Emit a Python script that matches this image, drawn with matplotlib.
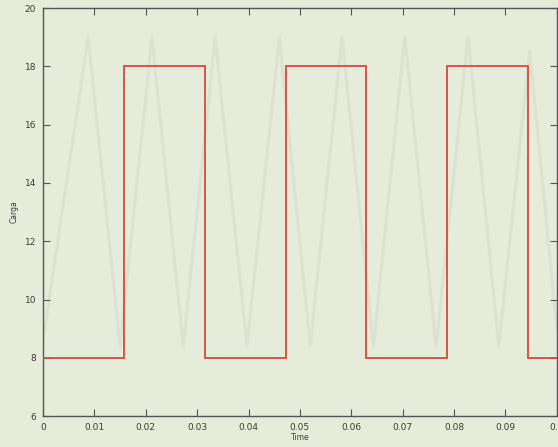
import matplotlib.pyplot as plt

# square wave: switching times and levels
edges = [0.0, 0.0158, 0.0315, 0.0472, 0.0629, 0.0786, 0.0943, 0.1]
levels = [8, 18, 8, 18, 8, 18, 8]

# faint show-through curve from the other side of the page (peaks / troughs)
ghost_t = [0.0, 0.0088, 0.015, 0.0212, 0.0273, 0.0335, 0.0397, 0.046, 0.052,
           0.0582, 0.0643, 0.0704, 0.0765, 0.0827, 0.0887, 0.0947, 0.1]
ghost_y = [8.6, 19.0, 8.4, 19.0, 8.4, 19.0, 8.4, 19.0, 8.4,
           19.0, 8.4, 19.0, 8.4, 19.0, 8.4, 18.5, 9.0]

xticks = [0, 0.01, 0.02, 0.03, 0.04, 0.05, 0.06, 0.07, 0.08, 0.09, 0.1]
xlabels = ['0', '0.01', '0.02', '0.03', '0.04', '0.05', '0.06', '0.07', '0.08', '0.09', '0.1']
yticks = [6, 8, 10, 12, 14, 16, 18, 20]


def main():
    bg = '#e5ecd9'
    fig = plt.figure(figsize=(5.58, 4.47), dpi=100, facecolor=bg)
    ax = fig.add_axes([0.077, 0.069, 0.921, 0.913], facecolor=bg)

    ax.plot(ghost_t, ghost_y, color='#dce2d2', linewidth=2.2, zorder=1)
    ax.stairs(levels, edges, baseline=None, color='#d8483c', linewidth=1.3, zorder=3)

    ax.set_xlim(0, 0.1)
    ax.set_ylim(6, 20)
    ax.set_xticks(xticks)
    ax.set_xticklabels(xlabels)
    ax.set_yticks(yticks)
    ax.tick_params(direction='in', length=5, width=0.8, color='#555555',
                   labelsize=6.5, labelcolor='#3a3a3a', top=True, right=True, pad=5)
    for s in ax.spines.values():
        s.set_color('#555555')
        s.set_linewidth(1.0)

    ax.set_xlabel('Time', fontsize=5.5, color='#3a3a3a', labelpad=1)
    ax.set_ylabel('Carga', fontsize=5.5, color='#3a3a3a', labelpad=4)

    fig.savefig('out.png', dpi=100, facecolor=bg)


if __name__ == '__main__':
    main()
